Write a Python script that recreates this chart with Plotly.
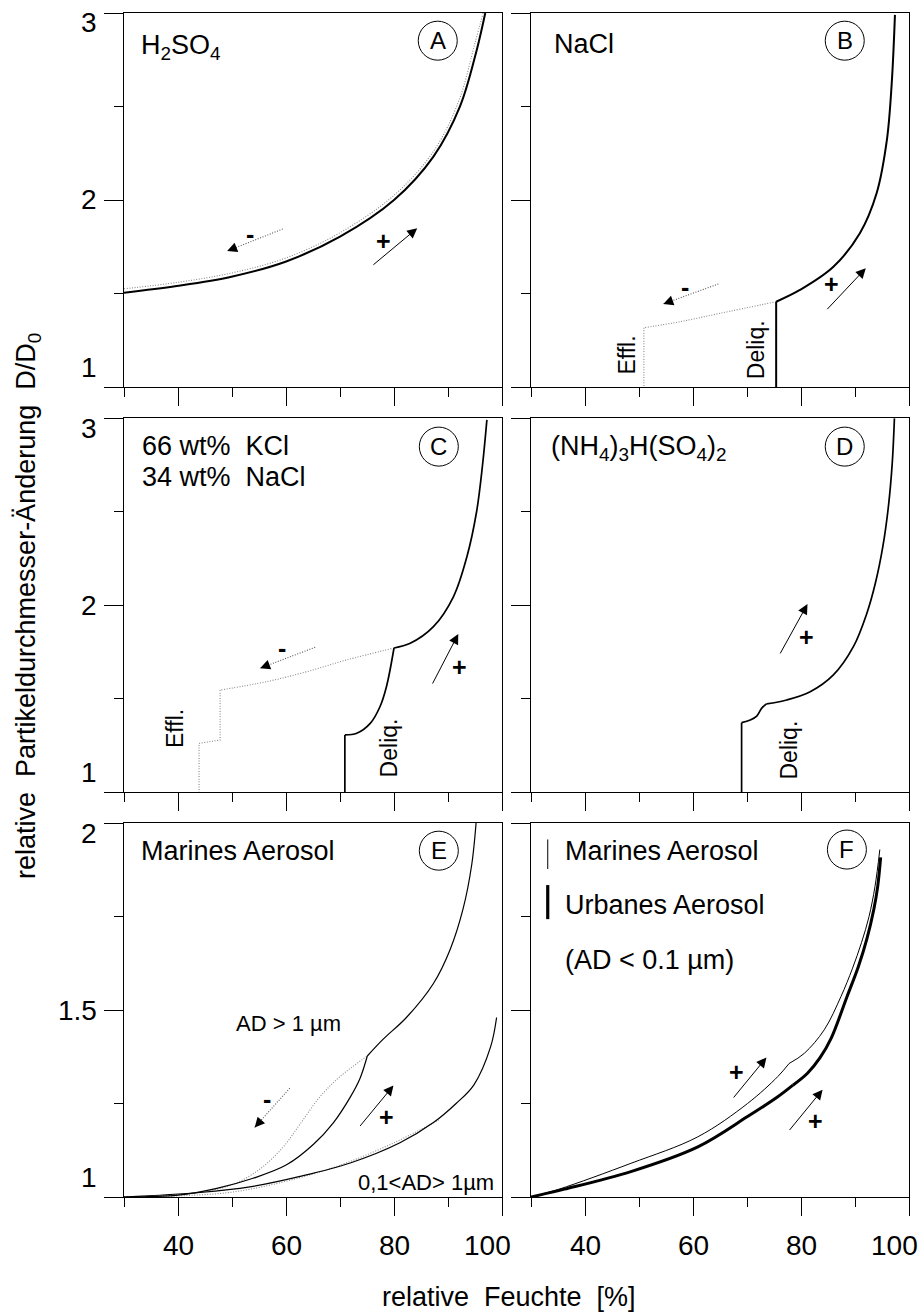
import plotly.graph_objects as go

# ---------------- axis ticks ----------------
RH_MAJOR = [40, 60, 80, 100]
RH_MINOR = [30, 50, 70, 90]
RH_LABELS = ["40", "60", "80", "100"]
D3_MAJOR = [1, 2, 3]
D3_MINOR = [1.5, 2.5]
D3_LABELS = ["1", "2", "3"]
D2_MAJOR = [1, 1.5, 2]
D2_MINOR = [1.25, 1.75]
D2_LABELS = ["1", "1.5", "2"]

# ---------------- A: H2SO4 ----------------
A_grow_rh = [30, 39.75, 49.9, 59.9, 70, 80, 87.3, 92.2, 95.3, 96.9]
A_grow_d = [1.504, 1.540, 1.590, 1.670, 1.804, 2.0, 2.232, 2.499, 2.80, 3.0]
A_dry_rh = [30, 40, 50, 60, 70, 80, 87.3, 92.0, 95.0, 96.5]
A_dry_d = [1.525, 1.560, 1.610, 1.690, 1.825, 2.025, 2.26, 2.53, 2.84, 3.0]

# ---------------- B: NaCl ----------------
B_deliq_rh = [75.4, 75.4]
B_deliq_d = [1.0, 1.456]
B_grow_rh = [75.4, 79.8, 86.0, 90.9, 94.0, 95.9, 96.8, 97.4]
B_grow_d = [1.456, 1.519, 1.643, 1.822, 2.036, 2.32, 2.624, 2.99]
B_dry_rh = [75.4, 65.0, 57.6, 50.9]
B_dry_d = [1.456, 1.394, 1.349, 1.317]
B_effl_rh = [50.9, 50.9]
B_effl_d = [1.317, 1.0]

# ---------------- C: 66 wt% KCl / 34 wt% NaCl ----------------
C_deliq_rh = [70.9, 70.9]
C_deliq_d = [1.0, 1.305]
C_grow1_rh = [70.9, 73.1, 75.6, 77.4, 78.6, 80.0]
C_grow1_d = [1.305, 1.314, 1.367, 1.456, 1.563, 1.770]
C_grow2_rh = [80.0, 83.0, 87.3, 91.0, 93.5, 95.3, 96.4, 97.2]
C_grow2_d = [1.770, 1.795, 1.884, 2.044, 2.258, 2.500, 2.750, 2.99]
C_dry_rh = [80.0, 71.2, 63.8, 56.4, 47.8]
C_dry_d = [1.770, 1.706, 1.643, 1.590, 1.545]
C_effl_rh = [47.8, 47.8, 43.9, 43.9]
C_effl_d = [1.545, 1.278, 1.260, 1.0]

# ---------------- D: (NH4)3H(SO4)2 ----------------
D_deliq_rh = [69.0, 69.0]
D_deliq_d = [1.0, 1.371]
D_grow1_rh = [69.0, 70.6, 71.8, 72.7, 73.6]
D_grow1_d = [1.371, 1.385, 1.406, 1.447, 1.471]
D_grow2_rh = [73.6, 77.35, 81.7, 86.0, 89.7, 92.2, 93.8, 95.2, 96.2, 96.9, 97.3]
D_grow2_d = [1.471, 1.492, 1.536, 1.626, 1.777, 1.956, 2.12, 2.32, 2.53, 2.76, 2.998]

# ---------------- E: Marines Aerosol ----------------
E_big1_rh = [30, 40.0, 47.2, 53.9, 60.1, 65.1, 68.8, 71.9, 73.7, 75.06]
E_big1_d = [1.0, 1.005, 1.023, 1.050, 1.086, 1.141, 1.199, 1.267, 1.317, 1.377]
E_big2_rh = [75.06, 78.0, 82.3, 87.3, 90.4, 92.8, 94.4, 95.2]
E_big2_d = [1.377, 1.422, 1.480, 1.571, 1.662, 1.771, 1.889, 2.0]
E_bigdry_rh = [30, 44.1, 50.2, 55.2, 59.5, 62.6, 66.3, 70.0, 75.06]
E_bigdry_d = [1.0, 1.013, 1.034, 1.075, 1.134, 1.195, 1.268, 1.322, 1.377]
E_small_rh = [30, 44.1, 53.3, 62.6, 71.9, 81.1, 87.3, 91.5, 94.8, 97.9, 99.0]
E_small_d = [1.0, 1.012, 1.027, 1.055, 1.091, 1.145, 1.199, 1.250, 1.300, 1.402, 1.480]
E_smalldry_rh = [30, 40, 50, 60, 70, 80, 88.3]
E_smalldry_d = [1.0, 1.003, 1.013, 1.042, 1.085, 1.145, 1.206]

# ---------------- F: Marines vs Urbanes Aerosol ----------------
F_mar1_rh = [30, 35.2, 48.5, 60.9, 70.1, 75.7, 77.8]
F_mar1_d = [1.0, 1.021, 1.090, 1.161, 1.250, 1.322, 1.357]
F_mar2_rh = [77.8, 80.6, 84.3, 87.4, 89.5, 91.2, 92.6, 93.7, 94.6]
F_mar2_d = [1.357, 1.384, 1.447, 1.536, 1.610, 1.680, 1.750, 1.830, 1.929]
F_urb1_rh = [30, 36.2, 48.5, 60.9, 70.1, 75.7, 78.5]
F_urb1_d = [1.0, 1.021, 1.068, 1.134, 1.215, 1.268, 1.299]
F_urb2_rh = [78.5, 81.2, 83.5, 85.6, 88.5, 90.6, 92.2, 93.5, 94.2, 94.75]
F_urb2_d = [1.299, 1.331, 1.372, 1.425, 1.535, 1.615, 1.690, 1.770, 1.830, 1.908]

# arrows: (panel, sign, tail_rh, tail_d, head_rh, head_d, label_rh, label_d)
ARROWS = [
    (1, "-", 59.4, 1.845, 49.1, 1.727, 53.3, 1.82),
    (1, "+", 75.9, 1.647, 84.3, 1.849, 78.0, 1.782),
    (2, "-", 64.7, 1.551, 54.5, 1.444, 58.6, 1.536),
    (2, "+", 84.6, 1.408, 92.0, 1.635, 85.6, 1.549),
    (3, "-", 65.4, 1.774, 55.2, 1.662, 59.2, 1.772),
    (3, "+", 87.0, 1.572, 91.9, 1.845, 92.1, 1.670),
    (4, "+", 76.0, 1.733, 81.2, 2.005, 81.05, 1.830),
    (5, "-", 60.7, 1.291, 54.2, 1.186, 56.4, 1.261),
    (5, "+", 73.5, 1.186, 79.9, 1.298, 78.6, 1.213),
    (6, "+", 67.3, 1.262, 73.6, 1.373, 68.1, 1.334),
    (6, "+", 77.65, 1.175, 84.0, 1.287, 82.6, 1.202),
]

# panel titles: (panel, text, rh, d)
TITLES = [
    (1, "H<sub>2</sub>SO<sub>4</sub>", 32.8, 2.82),
    (2, "NaCl", 33.8, 2.833),
    (3, "66 wt%\u00a0 KCl", 33.0, 2.851),
    (3, "34 wt%\u00a0 NaCl", 33.0, 2.682),
    (4, "(NH<sub>4</sub>)<sub>3</sub>H(SO<sub>4</sub>)<sub>2</sub>", 33.4, 2.84),
    (5, "Marines Aerosol", 32.8, 1.926),
    (6, "Marines Aerosol", 36.0, 1.926),
    (6, "Urbanes Aerosol", 36.0, 1.782),
    (6, "(AD &lt; 0.1 µm)", 36.0, 1.634),
]

# circled letters: (panel, letter, rh, d)
LETTERS = [
    (1, "A", 88.1, 2.852), (2, "B", 88.1, 2.852),
    (3, "C", 88.3, 2.847), (4, "D", 88.1, 2.847),
    (5, "E", 88.3, 1.926), (6, "F", 88.5, 1.929),
]

# rotated phase-transition labels: (panel, text, rh, d)
PHASE = [
    (2, "Effl.", 47.7, 1.171), (2, "Deliq.", 71.7, 1.198),
    (3, "Effl.", 39.4, 1.341), (3, "Deliq.", 79.1, 1.234),
    (4, "Deliq.", 77.7, 1.225),
]

# size class labels in E: (text, rh, d)
SIZE_LABELS = [
    ("AD &gt; 1 µm", 60.4, 1.464),
    ("0,1&lt;AD&gt; 1µm", 86.0, 1.039),
]

# legend marks in F: (rh, d0, d1, width)
LEGEND_MARKS = [(33.1, 1.877, 1.956, 1.0), (33.1, 1.743, 1.834, 3.2)]

# ---------------- figure ----------------
FONT = "Liberation Sans, Arial, Helvetica, sans-serif"
fig = go.Figure()


def refs(p):
    return ("x" if p == 1 else f"x{p}"), ("y" if p == 1 else f"y{p}")


def line(p, x, y, width=1.8, color="black", dash="solid", spline=True):
    xa, ya = refs(p)
    fig.add_trace(go.Scatter(
        x=x, y=y, xaxis=xa, yaxis=ya, mode="lines",
        line=dict(color=color, width=width, dash=dash,
                  shape="spline" if spline else "linear", smoothing=1.0),
        hoverinfo="skip", showlegend=False))


DOT = "1px,1.6px"
GRAY = "#8a8a8a"

# A
line(1, A_dry_rh, A_dry_d, width=1.1, color=GRAY, dash=DOT)
line(1, A_grow_rh, A_grow_d, width=2.0)
# B
line(2, B_dry_rh, B_dry_d, width=1.1, color=GRAY, dash=DOT)
line(2, B_effl_rh, B_effl_d, width=1.1, color=GRAY, dash=DOT, spline=False)
line(2, B_deliq_rh, B_deliq_d, width=2.0, spline=False)
line(2, B_grow_rh, B_grow_d, width=2.0)
# C
line(3, C_dry_rh, C_dry_d, width=1.1, color=GRAY, dash=DOT)
line(3, C_effl_rh, C_effl_d, width=1.1, color=GRAY, dash=DOT, spline=False)
line(3, C_deliq_rh, C_deliq_d, width=1.7, spline=False)
line(3, C_grow1_rh, C_grow1_d, width=1.7)
line(3, C_grow2_rh, C_grow2_d, width=1.7)
# D
line(4, D_deliq_rh, D_deliq_d, width=1.7, spline=False)
line(4, D_grow1_rh, D_grow1_d, width=1.7)
line(4, D_grow2_rh, D_grow2_d, width=1.7)
# E
line(5, E_bigdry_rh, E_bigdry_d, width=1.1, color=GRAY, dash=DOT)
line(5, E_smalldry_rh, E_smalldry_d, width=1.1, color=GRAY, dash=DOT)
line(5, E_big1_rh, E_big1_d, width=1.2)
line(5, E_big2_rh, E_big2_d, width=1.2)
line(5, E_small_rh, E_small_d, width=1.2)
# F
line(6, F_mar1_rh, F_mar1_d, width=1.0)
line(6, F_mar2_rh, F_mar2_d, width=1.0)
line(6, F_urb1_rh, F_urb1_d, width=3.0)
line(6, F_urb2_rh, F_urb2_d, width=3.0)

annotations = []
shapes = []

# arrows
for p, sign, tx, ty, hx, hy, lx, ly in ARROWS:
    xa, ya = refs(p)
    if sign == "-":
        line(p, [tx, hx], [ty, hy], width=1.1, color="#555555", dash=DOT, spline=False)
        bx = hx + 0.12 * (tx - hx)
        by = hy + 0.12 * (ty - hy)
    else:
        bx, by = tx, ty
    annotations.append(dict(x=hx, y=hy, ax=bx, ay=by, xref=xa, yref=ya,
                            axref=xa, ayref=ya, text="", showarrow=True,
                            arrowhead=2, arrowsize=2.0, arrowwidth=1.0,
                            arrowcolor="black", standoff=0))
    annotations.append(dict(x=lx, y=ly, xref=xa, yref=ya, text=f"<b>{sign}</b>",
                            showarrow=False, font=dict(family=FONT, size=25, color="black")))

# titles
for p, txt, x, y in TITLES:
    xa, ya = refs(p)
    annotations.append(dict(x=x, y=y, xref=xa, yref=ya, text=txt, showarrow=False,
                            xanchor="left", yanchor="middle",
                            font=dict(family=FONT, size=27, color="black")))

# circled letters
for p, letter, x, y in LETTERS:
    xa, ya = refs(p)
    shapes.append(dict(type="circle", xref=xa, yref=ya, xsizemode="pixel",
                       ysizemode="pixel", xanchor=x, yanchor=y,
                       x0=-19.5, x1=19.5, y0=-19.5, y1=19.5,
                       line=dict(color="black", width=1.0)))
    annotations.append(dict(x=x, y=y, xref=xa, yref=ya, text=letter, showarrow=False,
                            xanchor="center", yanchor="middle",
                            font=dict(family=FONT, size=24, color="black")))

# phase labels
for p, txt, x, y in PHASE:
    xa, ya = refs(p)
    annotations.append(dict(x=x, y=y, xref=xa, yref=ya, text=txt, showarrow=False,
                            textangle=-90, font=dict(family=FONT, size=23, color="black")))

# size-class labels in E
for txt, x, y in SIZE_LABELS:
    annotations.append(dict(x=x, y=y, xref="x5", yref="y5", text=txt, showarrow=False,
                            font=dict(family=FONT, size=22, color="black")))

# legend marks in F
for x, y0, y1, w in LEGEND_MARKS:
    shapes.append(dict(type="line", xref="x6", yref="y6", x0=x, x1=x, y0=y0, y1=y1,
                       line=dict(color="black", width=w)))

# y tick labels (left column)
for p, vals, labs in [(1, D3_MAJOR, D3_LABELS), (3, D3_MAJOR, D3_LABELS), (5, D2_MAJOR, D2_LABELS)]:
    xa, ya = refs(p)
    shifts = [20, 0, -10]
    for v, lab, s in zip(vals, labs, shifts):
        annotations.append(dict(x=0, y=v, xref=f"{xa} domain", yref=ya, text=lab,
                                showarrow=False, xanchor="right", yanchor="middle",
                                xshift=-25, yshift=s,
                                font=dict(family=FONT, size=28, color="black")))

# x tick labels (bottom row)
for p in (5, 6):
    xa, ya = refs(p)
    for v, lab in zip(RH_MAJOR, RH_LABELS):
        annotations.append(dict(x=v, y=0, xref=xa, yref=f"{ya} domain", text=lab,
                                showarrow=False, xanchor="center", yanchor="middle",
                                xshift=-15 if lab == "100" else 0, yshift=-48,
                                font=dict(family=FONT, size=28, color="black")))

# axis titles
annotations.append(dict(x=508.5 / 919, y=1 - 1297 / 1312, xref="paper", yref="paper",
                        text="relative\u00a0 Feuchte\u00a0 [%]", showarrow=False,
                        xanchor="center", yanchor="middle",
                        font=dict(family=FONT, size=27, color="black")))
annotations.append(dict(x=28 / 919, y=1 - 606 / 1312, xref="paper", yref="paper",
                        text="relative\u00a0 Partikeldurchmesser-Änderung\u00a0 D/D<sub>0</sub>",
                        showarrow=False, textangle=-90, xanchor="center", yanchor="middle",
                        font=dict(family=FONT, size=27, color="black")))

XL = [124 / 919, 502 / 919]
XR = [531 / 919, 909 / 919]
ROWS = [[1 - 387 / 1312, 1 - 13 / 1312], [1 - 792 / 1312, 1 - 418 / 1312],
        [1 - 1197 / 1312, 1 - 823 / 1312]]

layout_axes = {}
for p in range(1, 7):
    col = (p - 1) % 2
    row = (p - 1) // 2
    xa, ya = refs(p)
    xname = "xaxis" if p == 1 else f"xaxis{p}"
    yname = "yaxis" if p == 1 else f"yaxis{p}"
    common = dict(showline=True, mirror=True, linecolor="black", linewidth=1.2,
                  ticks="outside", tickwidth=1.2, tickcolor="black",
                  showgrid=False, zeroline=False, showticklabels=False,
                  fixedrange=True, tickmode="array")
    layout_axes[xname] = dict(common, domain=XL if col == 0 else XR, anchor=ya,
                              range=[30, 100], tickvals=RH_MAJOR, ticklen=18,
                              minor=dict(tickmode="array", tickvals=RH_MINOR,
                                         ticks="outside", ticklen=9, tickwidth=1.2,
                                         tickcolor="black", showgrid=False))
    if row < 2:
        yr, ymaj, ymin = [1, 3], D3_MAJOR, D3_MINOR
    else:
        yr, ymaj, ymin = [1, 2], D2_MAJOR, D2_MINOR
    layout_axes[yname] = dict(common, domain=ROWS[row], anchor=xa, range=yr,
                              tickvals=ymaj, ticklen=19,
                              minor=dict(tickmode="array", tickvals=ymin,
                                         ticks="outside", ticklen=9, tickwidth=1.2,
                                         tickcolor="black", showgrid=False))

fig.update_layout(width=919, height=1312, margin=dict(l=0, r=0, t=0, b=0),
                  paper_bgcolor="white", plot_bgcolor="white",
                  showlegend=False, annotations=annotations, shapes=shapes,
                  font=dict(family=FONT, color="black"), **layout_axes)

fig.write_html("out.html", config={"displayModeBar": False},
               post_script="document.body.style.margin='0';document.body.style.padding='0';")
